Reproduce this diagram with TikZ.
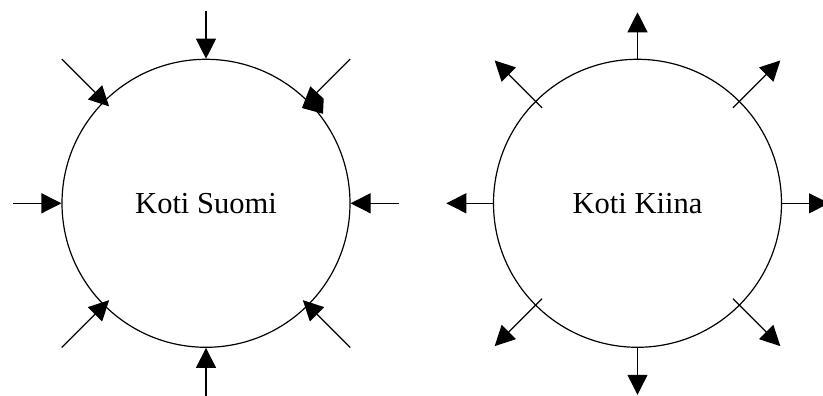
\documentclass[tikz,border=0pt]{standalone}
\usepackage{fontspec}
\setmainfont{Liberation Serif}
\usetikzlibrary{arrows.meta,calc}
\begin{document}
\begin{tikzpicture}[x=1pt,y=1pt,
  home/.style={draw, circle, line width=1.2pt, minimum size=288pt, inner sep=0pt,
    font=\fontsize{30.5}{36}\selectfont},
  flow/.style={line width=1.2pt, -{Triangle[length=20pt,width=20pt]}},
  shaft/.style={line width=1.2pt}]
\useasboundingbox (0,0) rectangle (823,396);

% two homes
\node[home] (ks) at (206,192.7) {Koti Suomi};
\node[home] (kk) at (637.5,192.7) {Koti Kiina};

% Koti Suomi: everything flows in
\coordinate (ksN) at ($(ks.center)+(90:192)$);
\coordinate (ksS) at ($(ks.center)+(270:193)$);
\coordinate (ksW) at ($(ks.center)+(180:193)$);
\coordinate (ksE) at ($(ks.center)+(0:193)$);
\draw[flow] (ksN) -- (ks.north);
\draw[flow] (ksS) -- (ks.south);
\draw[flow] (ksW) -- (ks.west);
\draw[flow] (ksE) -- (ks.east);
\foreach \a in {135,225,315}{
  \coordinate (ksd\a) at ($(ks.center)+(\a:204)$);
  \coordinate (ksi\a) at ($(ks.center)+(\a:137)$);
  \draw[flow] (ksd\a) -- (ksi\a);
}
% the north-east arrow has a skewed head
\coordinate (ksd45) at ($(ks.center)+(45:204)$);
\coordinate (ksi45) at ($(ks.center)+(45:156)$);
\draw[shaft] (ksd45) -- (ksi45);
\fill ($(ks.center)+(104.3,117)$) -- ($(ks.center)+(117.7,104.6)$)
  -- ($(ks.center)+(117,89.5)$) -- ($(ks.center)+(96,95.3)$) -- cycle;

% Koti Kiina: everything flows out
\coordinate (kkN) at ($(kk.center)+(90:191)$);
\coordinate (kkS) at ($(kk.center)+(270:191.5)$);
\coordinate (kkW) at ($(kk.center)+(180:191.2)$);
\coordinate (kkE) at ($(kk.center)+(0:191.5)$);
\draw[flow] (kk.north) -- (kkN);
\draw[flow] (kk.south) -- (kkS);
\draw[flow] (kk.west) -- (kkW);
\draw[flow] (kk.east) -- (kkE);
\foreach \a in {45,135,225,315}{
  \coordinate (kki\a) at ($(kk.center)+(\a:135)$);
  \coordinate (kkd\a) at ($(kk.center)+(\a:202)$);
  \draw[flow] (kki\a) -- (kkd\a);
}
\end{tikzpicture}
\end{document}
